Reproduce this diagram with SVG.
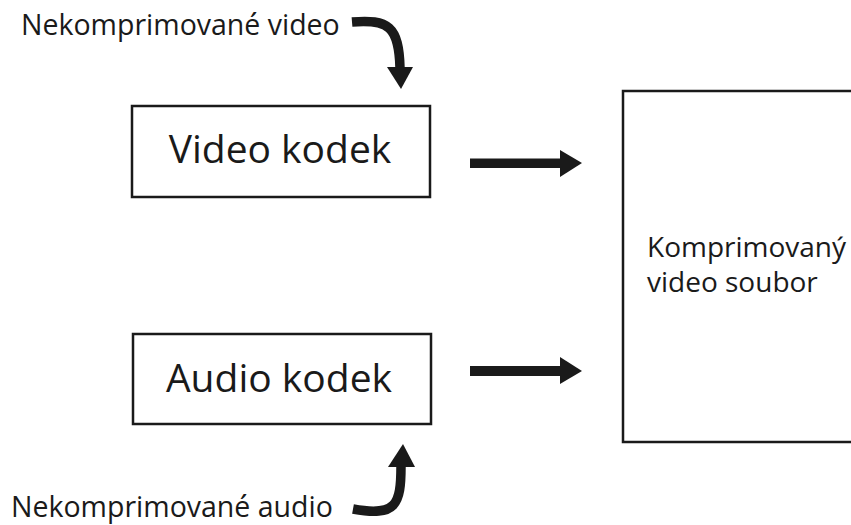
<svg xmlns="http://www.w3.org/2000/svg" width="851" height="525" viewBox="0 0 851 525">
  <style>
    .box { fill: #ffffff; stroke: #1a1a1a; stroke-width: 2.5; }
    .label { font-family: "Open Sans", "Liberation Sans", sans-serif; fill: #1a1a1a; }
    .big { font-size: 39px; text-anchor: middle; }
    .small { font-size: 28.5px; }
    .mid { font-size: 28px; }
    .shaft { fill: none; stroke: #1a1a1a; stroke-width: 9.5; }
    .head { fill: #1a1a1a; stroke: none; }
  </style>
  <rect width="851" height="525" fill="#ffffff"/>

  <!-- processing blocks -->
  <g id="video-codec">
    <rect class="box" x="132" y="106" width="298" height="91"/>
    <text class="label big" x="280" y="163">Video kodek</text>
  </g>
  <g id="audio-codec">
    <rect class="box" x="133" y="334" width="298" height="90"/>
    <text class="label big" x="279" y="392">Audio kodek</text>
  </g>
  <g id="output-file">
    <rect class="box" x="623" y="91" width="240" height="351"/>
    <text class="label mid" x="647" y="257">Komprimovaný</text>
    <text class="label mid" x="647" y="292">video soubor</text>
  </g>

  <!-- input labels -->
  <g id="video-input">
    <text class="label small" x="21" y="35">Nekomprimované video</text>
  </g>
  <g id="audio-input">
    <text class="label small" x="11" y="517">Nekomprimované audio</text>
  </g>

  <!-- connectors -->
  <g id="connectors">
    <!-- curved input arrows -->
    <path class="shaft" d="M352,22 C388,19 399,26 400,68"/>
    <polygon class="head" points="387,67 413,67 401,89"/>
    <path class="shaft" d="M353,509 C396,517 401,505 401,466"/>
    <polygon class="head" points="388,467 415,467 403,444"/>
    <!-- codec to file arrows -->
    <rect class="head" x="470" y="158.5" width="92" height="9.5"/>
    <polygon class="head" points="560,150 582,163 560,177"/>
    <rect class="head" x="470" y="366" width="92" height="10"/>
    <polygon class="head" points="560,357 582,371 560,384"/>
  </g>
</svg>
